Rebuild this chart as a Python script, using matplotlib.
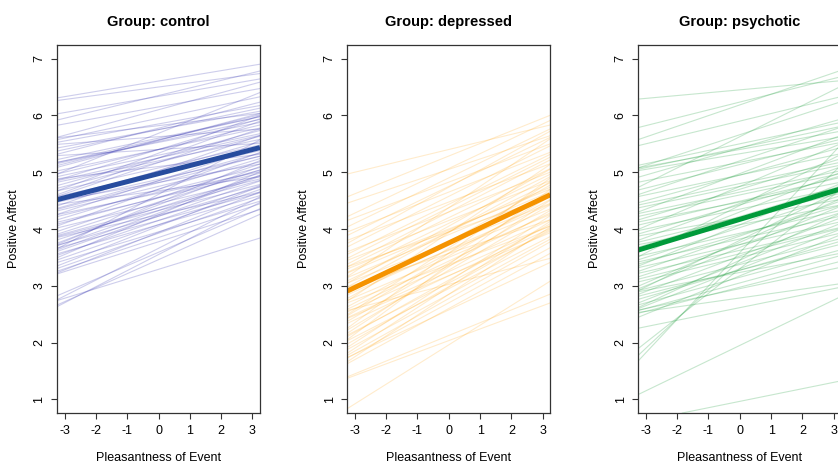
"""Lineas de regresion por sujeto y promedio por grupo."""

import matplotlib
matplotlib.use("Agg")
import matplotlib.pyplot as plt

plt.rcParams["font.family"] = ["Liberation Sans", "DejaVu Sans"]

groups = ["control", "depressed", "psychotic"]
x_ticks = [-3, -2, -1, 0, 1, 2, 3]
y_ticks = [1, 2, 3, 4, 5, 6, 7]

# valores predichos de cada sujeto en pleasantness = -3 y = 3
control_left = [6.33, 6.28, 6.05, 5.95, 5.85, 5.65, 5.6, 5.55, 5.45, 5.35, 5.25, 5.2,
                5.18, 5.12, 5.05, 5.0, 4.95, 4.9, 4.85, 4.8, 4.75, 4.7, 4.65, 4.6,
                4.55, 4.5, 4.45, 4.4, 4.35, 4.3, 4.25, 4.2, 4.15, 4.1, 4.05, 4.0,
                3.95, 3.9, 3.85, 3.8, 3.75, 3.72, 3.7, 3.65, 3.6, 3.55, 3.5, 3.45,
                3.4, 3.35, 3.3, 3.28, 3.25, 2.88, 2.82, 2.78, 2.72, 2.7, 5.5, 4.9,
                4.45, 5.3, 3.75, 5.2, 5.62, 5.15, 4.88, 4.62, 4.38, 4.12, 3.92, 3.78,
                3.58, 4.72, 5.02, 4.28, 3.68, 3.88, 4.52, 5.4]
control_right = [6.88, 6.72, 6.62, 6.75, 6.45, 6.55, 6.3, 6.15, 6.05, 6.2, 5.95, 5.85,
                 5.9, 6.0, 5.75, 5.8, 5.65, 5.9, 5.55, 5.7, 5.6, 5.45, 5.85, 5.35,
                 5.5, 5.25, 5.6, 5.3, 5.15, 5.4, 5.05, 5.2, 4.95, 5.3, 4.85, 5.1,
                 5.0, 4.75, 4.9, 5.05, 4.7, 5.5, 4.6, 4.8, 4.55, 4.95, 4.65, 4.45,
                 4.7, 4.5, 4.4, 4.6, 4.3, 4.3, 4.5, 3.8, 4.2, 4.4, 5.75, 5.3,
                 4.9, 5.5, 4.9, 5.95, 6.02, 5.98, 5.62, 5.72, 5.25, 5.0, 4.82, 5.15,
                 4.72, 5.95, 6.35, 4.98, 4.88, 4.62, 5.12, 6.1]

depressed_left = [5.0, 4.62, 4.5, 4.28, 4.2, 4.1, 4.0, 3.95, 3.85, 3.75, 3.65, 3.55,
                  3.5, 3.4, 3.35, 3.3, 3.25, 3.2, 3.15, 3.1, 3.0, 2.95, 2.85, 2.8,
                  2.7, 2.6, 2.55, 2.5, 2.45, 2.4, 2.3, 2.2, 2.15, 2.1, 2.0, 1.95,
                  1.9, 1.85, 1.8, 1.75, 1.7, 1.45, 1.42, 0.92, 2.6, 1.8, 3.05, 2.75,
                  3.45, 2.35, 3.62, 3.28, 3.12, 2.9, 2.65, 2.48, 2.25, 2.05, 3.82, 2.82,
                  3.38, 2.58, 2.18, 3.02]
depressed_right = [5.8, 5.95, 5.6, 5.85, 5.45, 5.7, 5.3, 5.55, 5.1, 5.4, 4.95, 5.2,
                   4.8, 5.0, 4.65, 4.9, 5.5, 4.6, 4.75, 4.4, 4.55, 4.3, 4.7, 4.2,
                   4.45, 4.1, 4.5, 4.0, 4.35, 3.95, 4.25, 3.9, 4.6, 3.8, 4.15, 3.75,
                   4.05, 3.7, 3.6, 3.95, 3.5, 2.8, 2.65, 3.0, 3.45, 3.35, 4.85, 4.0,
                   5.15, 4.8, 5.25, 4.68, 4.98, 4.38, 4.22, 3.88, 4.42, 3.92, 5.65, 5.05,
                   4.52, 4.75, 4.02, 4.12]

psychotic_left = [6.3, 5.82, 5.62, 5.5, 5.15, 5.12, 5.1, 5.05, 4.95, 4.85, 4.8, 4.65,
                  4.6, 4.5, 4.4, 4.35, 4.3, 4.2, 4.15, 4.05, 4.0, 3.95, 3.9, 3.85,
                  3.8, 3.75, 3.65, 3.55, 3.5, 3.45, 3.4, 3.35, 3.3, 3.25, 3.2, 3.1,
                  3.0, 2.95, 2.9, 2.85, 2.75, 2.7, 2.65, 2.6, 2.55, 2.5, 2.28, 2.0,
                  1.9, 1.82, 1.15, 0.63, 2.6, 2.55, 5.08, 4.72, 4.45, 4.1, 3.72, 3.42,
                  3.15, 2.98, 2.8, 2.68, 3.58, 4.25, 3.05, 2.92]
psychotic_right = [6.6, 6.65, 6.75, 6.3, 5.85, 6.2, 5.7, 5.6, 5.9, 5.5, 6.45, 5.75,
                   5.3, 5.4, 5.1, 5.6, 5.0, 5.2, 4.8, 5.45, 4.7, 4.9, 4.5, 5.05,
                   4.6, 4.4, 4.95, 4.3, 4.55, 4.2, 4.75, 4.1, 4.45, 4.0, 4.25, 3.9,
                   4.35, 3.8, 4.15, 3.7, 4.05, 3.6, 3.95, 3.5, 3.4, 3.85, 2.95, 4.6,
                   5.0, 5.35, 2.75, 1.3, 3.3, 3.02, 5.78, 5.55, 5.15, 4.88, 4.72, 4.38,
                   3.98, 4.62, 3.75, 4.22, 5.25, 4.95, 4.48, 3.55]

# linea promedio del grupo en -3 y 3
mean_left = [4.55, 2.97, 3.67]
mean_right = [5.40, 4.54, 4.67]

thin_colors = ["#3c3cb4", "#ffa000", "#1e9e3c"]
thin_alpha = [0.25, 0.2, 0.25]
thick_colors = ["#274c9e", "#f59300", "#009a3a"]

lefts = [control_left, depressed_left, psychotic_left]
rights = [control_right, depressed_right, psychotic_right]

fig = plt.figure(figsize=(8.38, 4.66), dpi=100)
ax_left = [57 / 838, 347.3 / 838, 638.3 / 838]
for i, group in enumerate(groups):
    ax = fig.add_axes([ax_left[i], 1 - 413 / 466, 203 / 838, 368 / 466])
    for a, b in zip(lefts[i], rights[i]):
        ax.axline((-3, a), (3, b), color=thin_colors[i], alpha=thin_alpha[i], lw=0.8)
    ax.axline((-3, mean_left[i]), (3, mean_right[i]), color=thick_colors[i], lw=3.6,
              solid_capstyle="butt")
    ax.set_xlim(-3.24, 3.24)
    ax.set_ylim(0.76, 7.24)
    ax.set_xticks(x_ticks)
    ax.set_xticklabels([str(t) for t in x_ticks])
    ax.set_yticks(y_ticks)
    ax.set_yticklabels([str(t) for t in y_ticks], rotation=90, va="center")
    ax.tick_params(direction="out", length=4.3, width=0.8, pad=4, labelsize=9,
                   color="#333333")
    for s in ax.spines.values():
        s.set_linewidth(0.9)
        s.set_color("#333333")
    ax.set_xlabel("Pleasantness of Event", fontsize=9, labelpad=11)
    ax.set_ylabel("Positive Affect", fontsize=9, labelpad=10)
    ax.set_title(f"Group: {group}", fontsize=10.5, fontweight="bold", pad=14)

fig.savefig("out.png", dpi=100)
plt.close(fig)
